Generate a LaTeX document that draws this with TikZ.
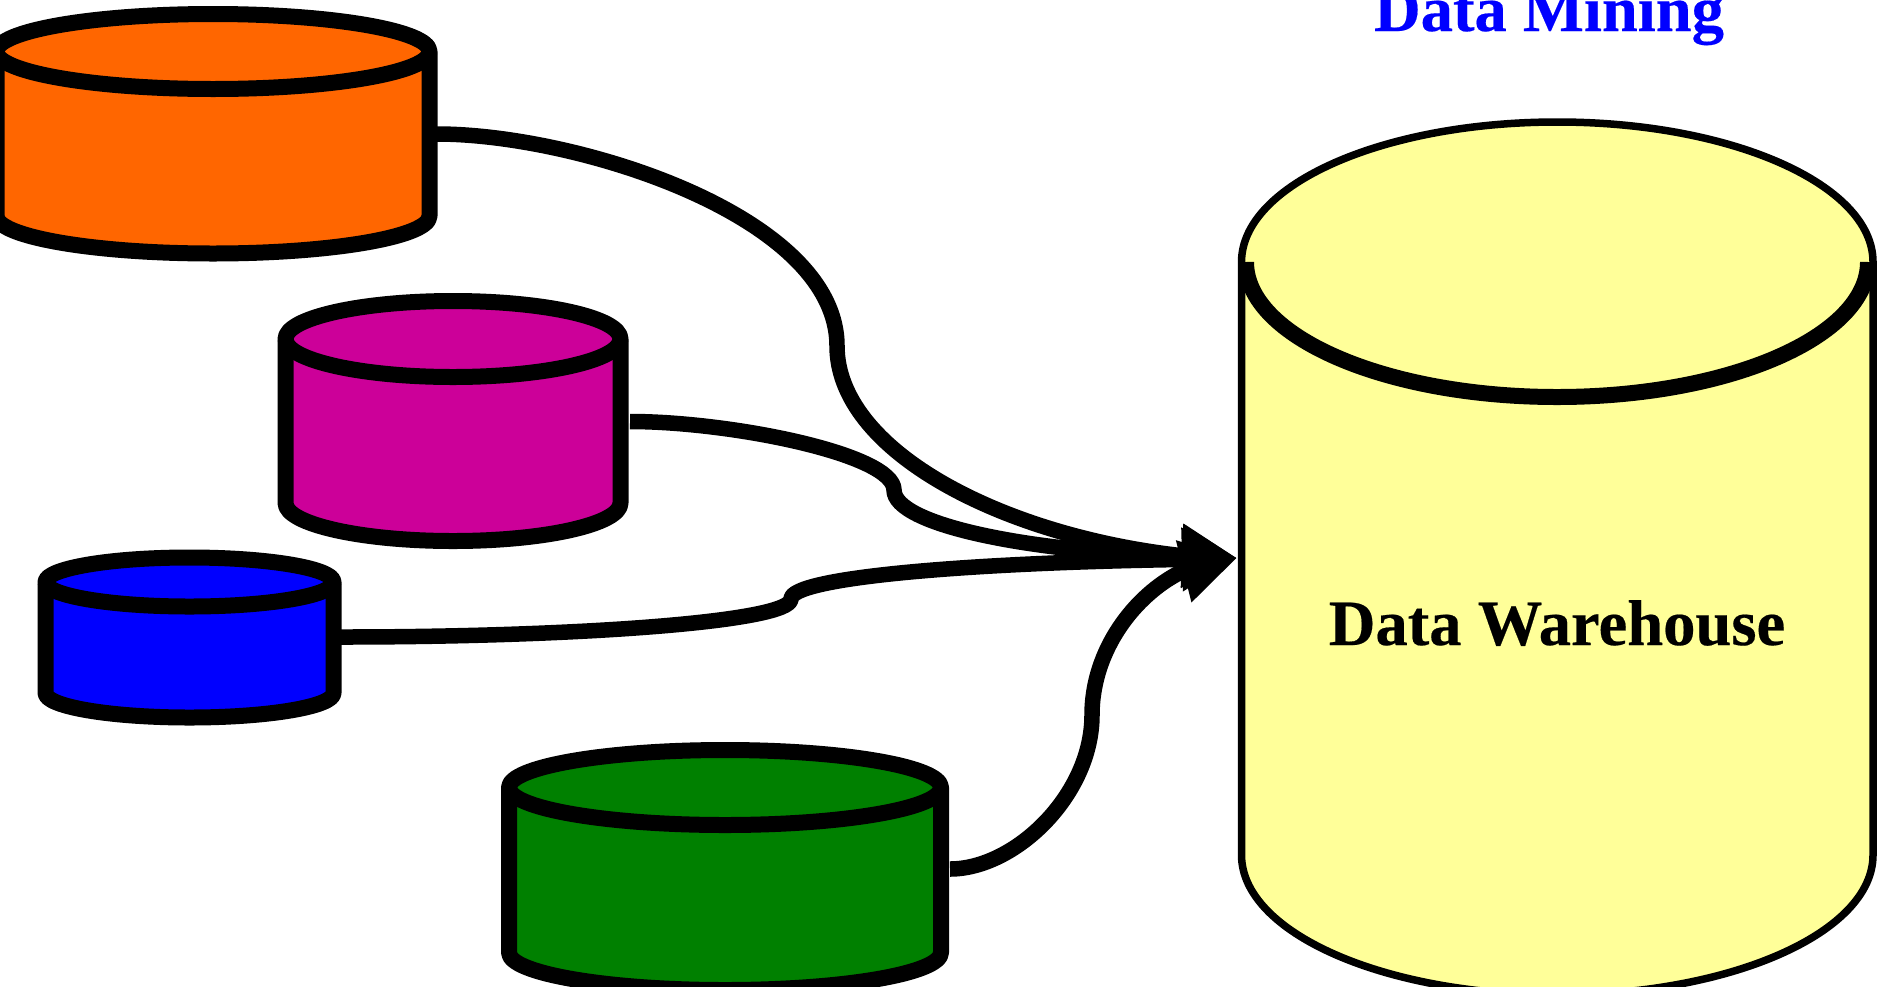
\documentclass[tikz,border=0pt]{standalone}
\usepackage{fontspec}
\setmainfont{Liberation Serif}
\usetikzlibrary{arrows.meta}
\newfontfamily\lblfont[BoldFeatures={FakeBold=0.3}]{Liberation Serif}
\definecolor{cOrange}{HTML}{FF6600}
\definecolor{cMagenta}{HTML}{CC0099}
\definecolor{cBlue}{HTML}{0000FF}
\definecolor{cGreen}{HTML}{008000}
\definecolor{cYellow}{HTML}{FFFF99}
\tikzset{
  px/.style={line width=#1*0.5pt},
  cyl/.style={draw=black,line join=round,px=16},
  link/.style={draw=black,px=15.5,line join=round,-{Triangle[length=27.5pt,width=30pt]}},
  lbl/.style={font=\lblfont\bfseries\fontsize{32.3pt}{36pt}\selectfont,anchor=base,inner sep=0pt}
}
% fill, cx, rx, top cy, ry, bottom cy
\newcommand{\drum}[6]{%
  \path[cyl,fill=#1] (#2-#3,#4) -- (#2-#3,#6) arc[start angle=180,end angle=0,x radius=#3,y radius=#5] -- (#2+#3,#4) arc[start angle=0,end angle=-180,x radius=#3,y radius=#5] -- cycle;
  \path[cyl] (#2-#3,#4) arc[start angle=180,end angle=0,x radius=#3,y radius=#5];
}
\begin{document}
\begin{tikzpicture}[x=0.5pt,y=-0.5pt]
\useasboundingbox (0,0) rectangle (1878,986);
\clip (0,0) rectangle (1878,986);
% warehouse
\path[draw=black,fill=cYellow,px=7.5,line join=round] (1241.5,262) -- (1241.5,855) arc[start angle=180,end angle=0,x radius=315.75,y radius=140] -- (1873,262) arc[start angle=0,end angle=-180,x radius=315.75,y radius=140] -- cycle;
\path[draw=black,px=16] (1246,262) arc[start angle=180,end angle=0,x radius=311,y radius=135];
\node[lbl,text=black] (dw) at (1557,645) {Data Warehouse};
\node[lbl,text=cBlue] (dm) at (1549,31) {Data Mining};
% sources
\drum{cOrange}{213}{216.5}{51.5}{37.5}{216}
\drum{cMagenta}{453}{167.5}{339}{38}{503}
\drum{cBlue}{189.5}{144}{582}{24.5}{693}
\drum{cGreen}{725}{216}{787.5}{37.5}{952.5}
\coordinate (oOut) at (437,134);
\coordinate (mOut) at (630,421.5);
\coordinate (bOut) at (341,637);
\coordinate (gOut) at (950,869);
\coordinate (tip) at (1237,558);
% connectors
\draw[link] (oOut) .. controls (577,134) and (837,216) .. (837,346) .. controls (837,450) and (1000,535) .. (1180,555.5) -- (tip);
\draw[link] (mOut) .. controls (730,421.5) and (894,454) .. (894,490) .. controls (894,525) and (1030,552) .. (1180,556) -- (tip);
\draw[link] (bOut) .. controls (575,637) and (791,622) .. (791,599) .. controls (791,578) and (960,563) .. (1180,559.5) -- (tip);
\draw[link] (gOut) .. controls (1015,869) and (1092,795) .. (1092,715) .. controls (1092,650) and (1135,595) .. (1181,572) -- (tip);
\end{tikzpicture}
\end{document}
